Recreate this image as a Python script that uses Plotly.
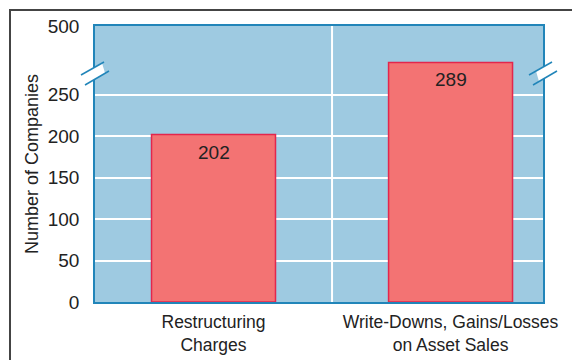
import plotly.graph_objects as go

# data
categories = ["Restructuring<br>Charges", "Write-Downs, Gains/Losses<br>on Asset Sales"]
counts = [202, 289]
y_ticks = [0, 50, 100, 150, 200, 250]
y_tick_text = ["0", "50", "100", "150", "200", "250"]
break_top_value = 333      # where the broken axis ends visually
break_top_label = "500"

BG = "#9ecae1"
BAR = "#f37373"
BAR_EDGE = "#e3264c"
AXIS_BLUE = "#2185b9"
TEXT = "#222222"
FONT = "Liberation Sans, Arial, sans-serif"

W, H = 572, 360
L, R, T, B = 95, 29, 26, 58


def px(x, y):
    # pixel -> paper coordinates
    return (x - L) / (W - L - R), (H - B - y) / (H - T - B)


fig = go.Figure()
fig.add_trace(go.Bar(
    x=categories, y=counts, width=0.523,
    marker=dict(color=BAR, line=dict(color=BAR_EDGE, width=1.5)),
    hoverinfo="skip",
))

for c, v in zip(categories, counts):
    fig.add_annotation(x=c, y=v, text=str(v), showarrow=False,
                       yanchor="top", yshift=-5,
                       font=dict(size=19, color=TEXT, family=FONT))

shapes = []
# divider between categories
shapes.append(dict(type="line", xref="x", yref="paper", x0=0.5, x1=0.5,
                   y0=0, y1=1, line=dict(color="white", width=2), layer="below"))

# break marks on both sides
for ax in (L, W - R):
    dx = ax - L
    gap = [px(88 + dx, 71), px(102 + dx, 63), px(105 + dx, 73), px(91 + dx, 81.5)]
    path = "M " + " L ".join(f"{a},{b}" for a, b in gap) + " Z"
    shapes.append(dict(type="path", xref="paper", yref="paper", path=path,
                       fillcolor="white", line=dict(width=0)))
    for (x0, y0, x1, y1) in [(81, 75, 104, 62), (85, 85, 109, 71)]:
        a0, b0 = px(x0 + dx, y0)
        a1, b1 = px(x1 + dx, y1)
        shapes.append(dict(type="line", xref="paper", yref="paper",
                           x0=a0, y0=b0, x1=a1, y1=b1,
                           line=dict(color=AXIS_BLUE, width=1.5)))

# outer frame (left and top)
fx, fy = px(10, 10)
_, fb = px(10, H)
fr, _ = px(W, 10)
frame = f"M {fx},{fb} L {fx},{fy} L {fr},{fy}"
shapes.append(dict(type="path", xref="paper", yref="paper", path=frame,
                   line=dict(color="#444444", width=2)))

fig.update_layout(
    width=W, height=H,
    margin=dict(l=L, r=R, t=T, b=B),
    paper_bgcolor="white", plot_bgcolor=BG,
    font=dict(family=FONT, color=TEXT, size=18),
    showlegend=False,
    shapes=shapes,
)
fig.update_xaxes(
    range=[-0.5, 1.39], showgrid=False, ticks="", automargin=False,
    showline=True, mirror=True, linecolor=AXIS_BLUE, linewidth=1.5,
    tickfont=dict(size=17.5, color=TEXT), ticklabelstandoff=3,
)
fig.update_yaxes(
    range=[0, break_top_value], automargin=False,
    tickvals=y_ticks + [break_top_value],
    ticktext=y_tick_text + [break_top_label],
    showgrid=True, gridcolor="white", gridwidth=2,
    showline=True, mirror=True, linecolor=AXIS_BLUE, linewidth=1.5,
    zeroline=False, ticks="", ticklabelstandoff=10,
    tickfont=dict(size=19, color=TEXT),
    title=dict(text="Number of Companies", font=dict(size=18, color=TEXT), standoff=4),
)

fig.write_html("out.html", config={"displayModeBar": False},
               post_script="document.body.style.margin = '0';")
